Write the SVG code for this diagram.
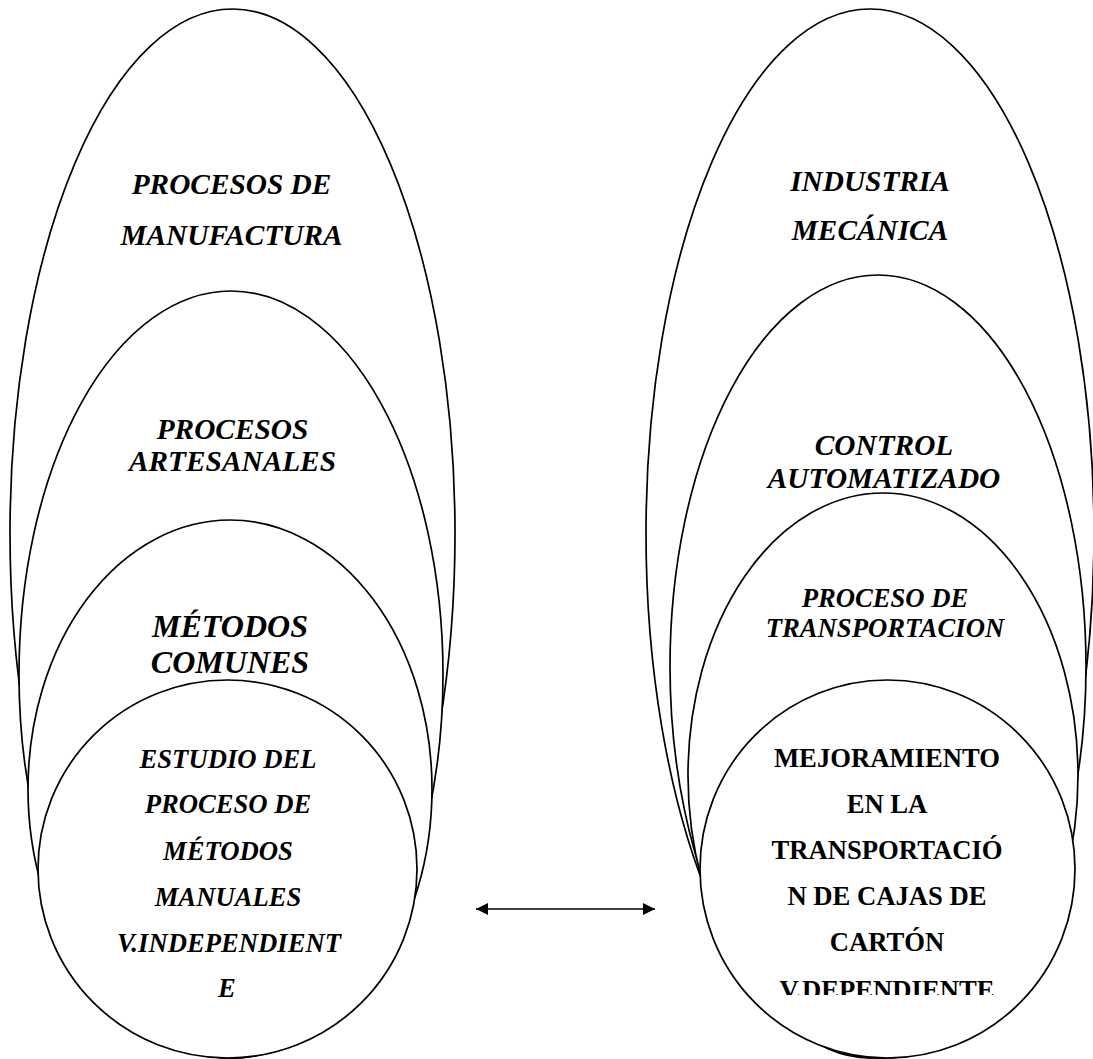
<svg xmlns="http://www.w3.org/2000/svg" width="1093" height="1059" viewBox="0 0 1093 1059">
<defs>
<style>
.sh{fill:#fff;stroke:#000;stroke-width:1.7}
.t{font-family:"Liberation Serif","Times New Roman",serif;font-weight:bold;font-style:italic;text-anchor:middle;fill:#000}
.u{font-family:"Liberation Serif","Times New Roman",serif;font-weight:bold;text-anchor:middle;fill:#000;font-size:26.67px}
.f22{font-size:29.33px}
.f24{font-size:32px}
.f20{font-size:26.67px}
.ln{stroke:#000;stroke-width:1.6;fill:none}
</style>
<marker id="ah" viewBox="0 0 10 10" refX="10" refY="5" markerWidth="17" markerHeight="12" markerUnits="userSpaceOnUse" orient="auto-start-reverse">
<path d="M0,0 L10,5 L0,10 z" fill="#000"/>
</marker>
<clipPath id="clipD"><rect x="680" y="680" width="413" height="315"/></clipPath>
</defs>
<rect width="1093" height="1059" fill="#fff"/>
<g id="manufactura">
<ellipse class="sh" cx="232.5" cy="533.5" rx="222.5" ry="524.5"/>
<text class="t f22" x="231.5" y="194">PROCESOS DE</text>
<text class="t f22" x="231.5" y="245">MANUFACTURA</text>
</g>
<g id="artesanales">
<ellipse class="sh" cx="231" cy="674.5" rx="212" ry="383.5"/>
<text class="t f22" x="232.5" y="439">PROCESOS</text>
<text class="t f22" x="232.5" y="471">ARTESANALES</text>
</g>
<g id="metodos-comunes">
<ellipse class="sh" cx="230" cy="789" rx="202" ry="269"/>
<text class="t f24" x="230" y="637">MÉTODOS</text>
<text class="t f24" x="230" y="673">COMUNES</text>
</g>
<g id="estudio">
<ellipse class="sh" cx="227.5" cy="869" rx="189.5" ry="189"/>
<text class="t f20" x="228" y="768">ESTUDIO DEL</text>
<text class="t f20" x="228" y="813">PROCESO DE</text>
<text class="t f20" x="228" y="860">MÉTODOS</text>
<text class="t f20" x="228" y="906">MANUALES</text>
<text class="t f20" x="229" y="952">V.INDEPENDIENT</text>
<text class="t f20" x="227" y="997">E</text>
</g>
<g id="industria">
<ellipse class="sh" cx="870" cy="533.5" rx="224" ry="524.5"/>
<text class="t f22" x="870" y="191">INDUSTRIA</text>
<text class="t f22" x="870" y="240">MECÁNICA</text>
</g>
<g id="control">
<ellipse class="sh" cx="878" cy="666.5" rx="208" ry="391.5"/>
<text class="t f22" x="884" y="455">CONTROL</text>
<text class="t f22" x="884" y="488">AUTOMATIZADO</text>
</g>
<g id="transportacion">
<ellipse class="sh" cx="883" cy="775.5" rx="195" ry="282.5"/>
<text class="t f20" x="885" y="607">PROCESO DE</text>
<text class="t f20" x="885" y="637">TRANSPORTACION</text>
</g>
<g id="mejoramiento">
<ellipse class="sh" cx="887.5" cy="869" rx="187.5" ry="189"/>
<text class="u" x="887" y="767">MEJORAMIENTO</text>
<text class="u" x="887" y="813">EN LA</text>
<text class="u" x="887" y="859">TRANSPORTACIÓ</text>
<text class="u" x="887" y="905">N DE CAJAS DE</text>
<text class="u" x="887" y="951">CARTÓN</text>
<text class="u" x="887" y="999" clip-path="url(#clipD)">V.DEPENDIENTE</text>
</g>
<g id="connectors">
<line class="ln" x1="476" y1="909" x2="655" y2="909" marker-start="url(#ah)" marker-end="url(#ah)"/>
</g>
</svg>
